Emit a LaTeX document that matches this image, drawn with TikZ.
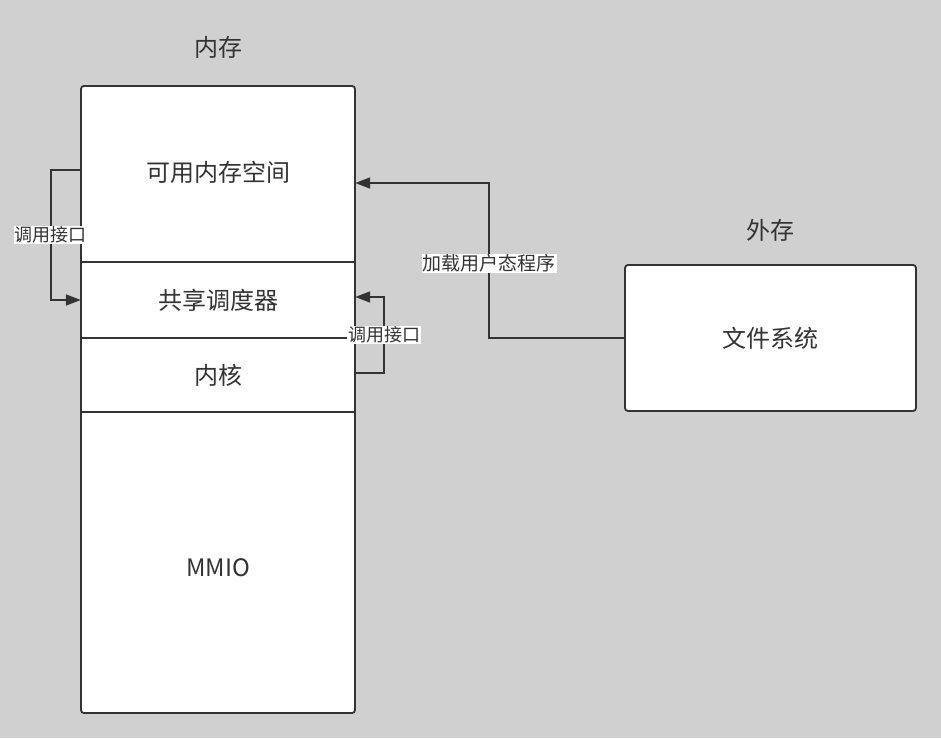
\documentclass[tikz,border=0pt]{standalone}
\usepackage{fontspec}
\setmainfont{Noto Sans CJK SC}
\usetikzlibrary{arrows.meta}
\definecolor{bggray}{RGB}{208,208,208}
\definecolor{ink}{RGB}{51,51,51}

\begin{document}
\begin{tikzpicture}[x=1pt,y=-1pt,
    big/.style={font=\fontsize{24}{28}\selectfont,text=ink},
    small/.style={font=\fontsize{18}{21}\selectfont,text=ink},
    frame/.style={draw=ink,line width=1.8pt,fill=white,rounded corners=3pt},
    part/.style={minimum width=274pt,inner sep=0pt,big},
    link/.style={draw=ink,line width=1.8pt,-{Triangle[length=15pt,width=11pt]}},
    tag/.style={small,fill=white,inner sep=1pt}]
                \useasboundingbox[fill=bggray] (0,0) rectangle (941,738);

                \node[frame,minimum width=274pt,minimum height=627pt] (mem) at (218,399.5) {};
                \node[part,minimum height=176pt] (avail) at (218,174) {};
                \node[part,minimum height=76pt] (sched) at (218,300) {共享调度器};
                \node[part,minimum height=74pt] (kernel) at (218,375) {内核};
                \node[part,minimum height=301pt] (mmio) at (218,562.5) {};
                \node[big] (availtext) at (218,172) {可用内存空间};
                \node[big] (mmiotext) at (218,568) {MMIO};
                \node[big] (memtitle) at (218,47) {内存};

                \draw[draw=ink,line width=1.8pt] (sched.north west) -- (sched.north east);
                \draw[draw=ink,line width=1.8pt] (kernel.north west) -- (kernel.north east);
                \draw[draw=ink,line width=1.8pt] (mmio.north west) -- (mmio.north east);

                \node[frame,minimum width=291pt,minimum height=146pt,big] (fs) at (770.5,338) {文件系统};
                \node[big] (fstitle) at (770,230) {外存};

                \draw[link] ([yshift=4pt]avail.west) -- ++(-30,0)
                    |- node[tag,pos=0.25] {调用接口} (sched.west);
                \draw[link] ([yshift=2pt]kernel.east) -- ++(29,0)
                    |- node[tag,pos=0.25] {调用接口} ([yshift=3pt]sched.east);
                \draw[link] (fs.west) -- ++(-135,0)
                    |- node[tag,pos=0.24,font=\fontsize{19}{22}\selectfont] {加载用户态程序} ([yshift=-9pt]avail.east);
            \end{tikzpicture}
\end{document}
